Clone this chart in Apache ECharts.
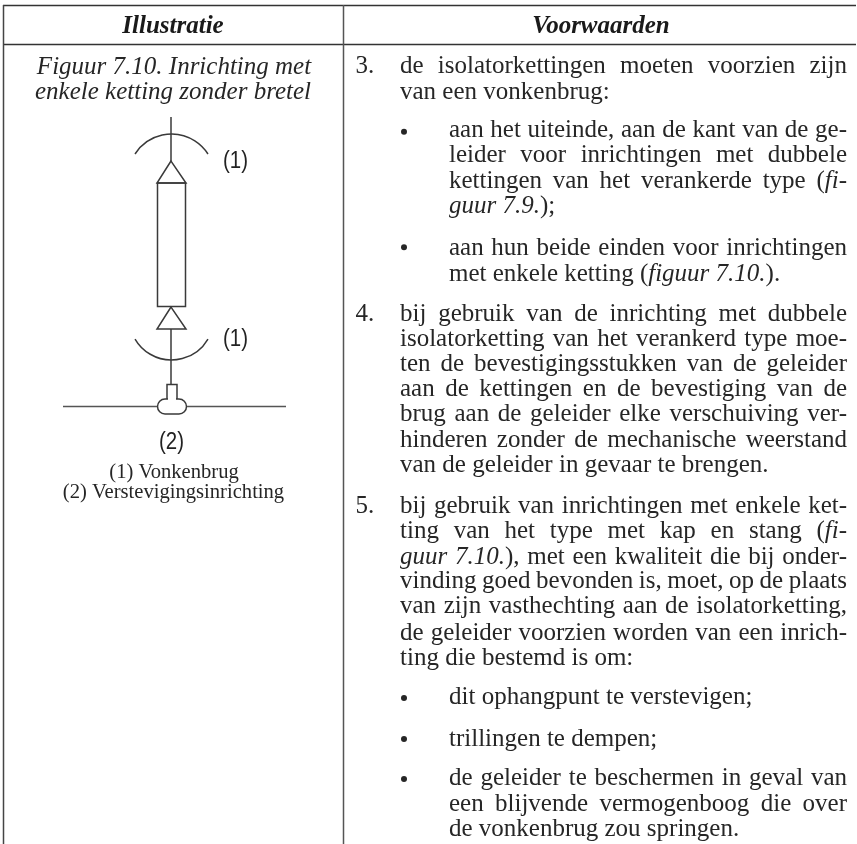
<!DOCTYPE html>
<html><head><meta charset="utf-8">
<style>html,body{margin:0;padding:0;background:#fff}#c{width:857px;height:844px}</style>
<script src="https://cdn.jsdelivr.net/npm/echarts@6/dist/echarts.min.js"></script>
</head><body><div id="c"></div>
<script>
const headers = ['Illustratie', 'Voorwaarden'];
const captionLines = ['Figuur 7.10. Inrichting met', 'enkele ketting zonder bretel'];
const legendLines = ['(1) Vonkenbrug', '(2) Verstevigingsinrichting'];
const markerLabels = ['(1)', '(1)', '(2)'];
const listNumbers = ['3.', '4.', '5.'];
// Body text: [text, indent level, justified]; _..._ marks italics
const bodyLines = [
 ['de isolatorkettingen moeten voorzien zijn',0,1],
 ['van een vonkenbrug:',0,0],
 ['aan het uiteinde, aan de kant van de ge-',1,1],
 ['leider voor inrichtingen met dubbele',1,1],
 ['kettingen van het verankerde type (_fi_-',1,1],
 ['_guur 7.9._);',1,0],
 ['aan hun beide einden voor inrichtingen',1,1],
 ['met enkele ketting (_figuur 7.10._).',1,0],
 ['bij gebruik van de inrichting met dubbele',0,1],
 ['isolatorketting van het verankerd type moe-',0,1],
 ['ten de bevestigingsstukken van de geleider',0,1],
 ['aan de kettingen en de bevestiging van de',0,1],
 ['brug aan de geleider elke verschuiving ver-',0,1],
 ['hinderen zonder de mechanische weerstand',0,1],
 ['van de geleider in gevaar te brengen.',0,0],
 ['bij gebruik van inrichtingen met enkele ket-',0,1],
 ['ting van het type met kap en stang (_fi_-',0,1],
 ['_guur 7.10._), met een kwaliteit die bij onder-',0,1],
 ['vinding goed bevonden is, moet, op de plaats',0,1],
 ['van zijn vasthechting aan de isolatorketting,',0,1],
 ['de geleider voorzien worden van een inrich-',0,1],
 ['ting die bestemd is om:',0,0],
 ['dit ophangpunt te verstevigen;',1,0],
 ['trillingen te dempen;',1,0],
 ['de geleider te beschermen in geval van',1,1],
 ['een blijvende vermogenboog die over',1,1],
 ['de vonkenbrug zou springen.',1,0]
];
const bodyBaselines = [74,100,138,163,188.5,214,256,282,322,347,372,397,422,448,473,514,539,565,589,614,641,666,705,747,786,812,837];
const numberLineIndex = [0,8,15];
const bulletCenters = [131.7,247.3,698,739,779];

const SERIF='"Liberation Serif"', SANS='"Liberation Sans"', FS=25, INK='#262626';
const ctx=document.createElement('canvas').getContext('2d');
function fontStr(it,bold,size){return (it?'italic ':'')+(bold?'bold ':'')+size+'px '+SERIF;}
function measure(t,it,bold,size){ctx.font=fontStr(it,bold,size);return ctx.measureText(t).width;}
const BASE_SHIFT=0.29;
const g=[];
function txt(t,x,base,o){o=o||{};const size=o.size||FS;
 g.push({type:'text',silent:true,z:5,style:{text:t,x:x,y:base-size*BASE_SHIFT,fill:o.fill||INK,
  font:o.font||fontStr(o.it,o.bold,size),align:o.align||'left',verticalAlign:'middle'}});}
function layoutLine(line,left,right,base){
 const words=line[0].split(' ');let it=false;
 const parsed=words.map(w=>{const runs=[];w.split('_').forEach((p,i)=>{if(i>0)it=!it;if(p)runs.push({t:p,it:it,w:measure(p,it,false,FS)});});
   return {runs:runs,w:runs.reduce((a,r)=>a+r.w,0)};});
 const sum=parsed.reduce((a,p)=>a+p.w,0);
 const gap=line[2]&&parsed.length>1?(right-left-sum)/(parsed.length-1):FS*0.25;
 let x=left;parsed.forEach(p=>{p.runs.forEach(r=>{txt(r.t,x,base,{it:r.it});x+=r.w;});x+=gap;});
}
function seg(x1,y1,x2,y2,w,c){g.push({type:'line',silent:true,shape:{x1,y1,x2,y2},style:{stroke:c||'#333',lineWidth:w||1.5}});}

// table rules
seg(3,5.5,856,5.5,1.5,'#333');seg(3,44.5,856,44.5,1.5,'#333');seg(3.5,5,3.5,844,1.5,'#444');seg(343.5,5,343.5,844,1.5,'#555');
// headers
txt(headers[0],173,33.5,{it:1,bold:1,align:'center',fill:'#1a1a1a'});
txt(headers[1],601,33.5,{it:1,bold:1,align:'center',fill:'#1a1a1a'});
// caption
txt(captionLines[0],174,75,{it:1,align:'center'});txt(captionLines[1],173,100,{it:1,align:'center'});
// legend
txt(legendLines[0],174,479,{size:20.6,align:'center'});txt(legendLines[1],173.5,499,{size:20.6,align:'center'});
// body
bodyLines.forEach((l,i)=>layoutLine(l,l[1]?449:400,847,bodyBaselines[i]));
numberLineIndex.forEach((li,i)=>txt(listNumbers[i],355.5,bodyBaselines[li]));
bulletCenters.forEach(cy=>g.push({type:'circle',silent:true,shape:{cx:404,cy:cy,r:3},style:{fill:'#262626'}}));
// diagram
const S='#3a3a3a', LW=1.5, rad=Math.PI/180;
const strokeStyle=()=>({fill:'none',stroke:S,lineWidth:LW});
seg(171,117,171,161,LW,S);
g.push({type:'arc',silent:true,shape:{cx:171.5,cy:177.3,r:43.3,startAngle:-147.4*rad,endAngle:-32.6*rad,clockwise:true},style:strokeStyle()});
g.push({type:'polygon',silent:true,shape:{points:[[171,161],[157,183],[186,183]]},style:strokeStyle()});
g.push({type:'rect',silent:true,shape:{x:157.5,y:183,width:28,height:123.5},style:strokeStyle()});
g.push({type:'polygon',silent:true,shape:{points:[[171,307],[157,329],[186,329]]},style:strokeStyle()});
seg(171,329,171,384,LW,S);
g.push({type:'arc',silent:true,shape:{cx:171.5,cy:317.8,r:42.2,startAngle:30.2*rad,endAngle:149.8*rad,clockwise:true},style:strokeStyle()});
g.push({type:'rect',silent:true,shape:{x:157.5,y:399,width:29,height:15,r:7.5},style:strokeStyle()});
seg(168,399,176,399,2.5,'#fff');
g.push({type:'polyline',silent:true,shape:{points:[[167,399],[167,384.5],[177,384.5],[177,399]]},style:strokeStyle()});
seg(63,406.5,157,406.5,1.5,'#555');seg(187,406.5,286,406.5,1.5,'#555');
function sansLabel(t,x,cy){g.push({type:'text',silent:true,z:5,x:x,y:cy,scaleX:0.87,style:{text:t,x:0,y:0,fill:'#222',font:'23.5px '+SANS,align:'center',verticalAlign:'middle'}});}
sansLabel(markerLabels[0],235.5,161.5);
sansLabel(markerLabels[1],235.5,339.5);
sansLabel(markerLabels[2],171.5,442.5);

const chart=echarts.init(document.getElementById('c'),null,{renderer:'canvas'});
chart.setOption({animation:false,backgroundColor:'#fff',graphic:{elements:g}});
</script></body></html>
